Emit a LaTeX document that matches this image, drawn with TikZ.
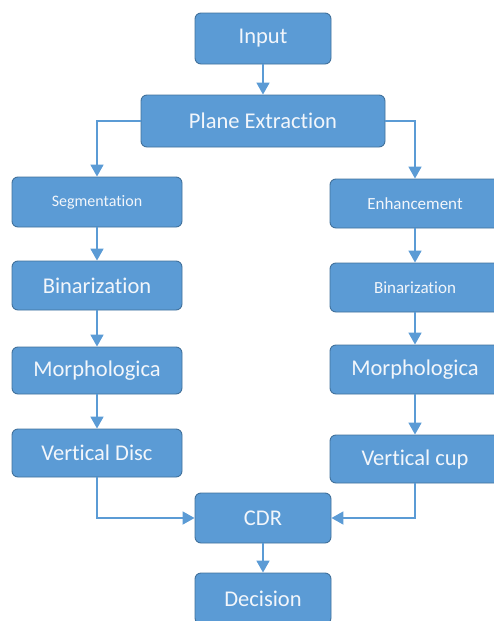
\documentclass[tikz,border=0pt]{standalone}
\usepackage{fontspec}
\setmainfont{Carlito}[Ligatures=CommonOff]
\usepackage{tikz}
\usetikzlibrary{arrows.meta}
\usetikzlibrary{positioning}
\definecolor{boxfill}{HTML}{5B9BD5}
\definecolor{boxline}{HTML}{41719C}
\definecolor{flowline}{HTML}{5B9BD5}
\definecolor{stagetext}{HTML}{F2F6FB}
\tikzset{stage/.style = {draw=boxline, line width=0.9pt, fill=boxfill,
                         rounded corners=6pt, text=stagetext, inner sep=0pt,
                         minimum height=49pt, font=\fontsize{22.5}{26}\selectfont},
         wide/.style = {minimum width=170pt},
         narrow/.style = {minimum width=136pt},
         flow/.style = {draw=flowline, line width=1.8pt,
                        -{Triangle[width=13pt,length=12pt]}}}

\begin{document}
\begin{tikzpicture}[x=1pt, y=-1pt]
    \useasboundingbox (0, 0) rectangle (493, 621);
    \node [stage, narrow, minimum height=51pt] (input) at (263, 38.5) {Input};
    \node [stage, minimum width=244pt, minimum height=52pt] (plane) at (263, 121) {Plane Extraction};
    \node [stage, wide, minimum height=50pt, font=\fontsize{16}{19}\selectfont] (seg) at (97, 202) {Segmentation};
    \node [stage, wide, font=\fontsize{17}{20}\selectfont] (enh) at (415, 203.5) {Enhancement};
    \node [stage, wide] (binl) at (97, 285.5) {Binarization};
    \node [stage, wide, font=\fontsize{17}{20}\selectfont] (binr) at (415, 287.5) {Binarization};
    \node [stage, wide, minimum height=47pt] (morl) at (97, 370.5) {Morphologica};
    \node [stage, wide] (morr) at (415, 369.5) {Morphologica};
    \node [stage, wide, minimum height=48pt] (disc) at (97, 453) {Vertical Disc};
    \node [stage, wide, minimum height=48pt] (cup) at (415, 459) {Vertical cup};
    \node [stage, narrow, minimum height=50pt] (cdr) at (263, 518) {CDR};
    \node [stage, narrow, minimum height=51pt] (decision) at (263, 598.5) {Decision};

    \draw [flow] (input) -- (plane);
    \draw [flow] (plane.west) -| (seg.north);
    \draw [flow] (plane.east) -| (enh.north);
    \draw [flow] (seg) -- (binl);
    \draw [flow] (binl) -- (morl);
    \draw [flow] (morl) -- (disc);
    \draw [flow] (enh) -- (binr);
    \draw [flow] (binr) -- (morr);
    \draw [flow] (morr) -- (cup);
    \draw [flow] (disc.south) |- (cdr.west);
    \draw [flow] (cup.south) |- (cdr.east);
    \draw [flow] (cdr) -- (decision);
  \end{tikzpicture}
\end{document}
